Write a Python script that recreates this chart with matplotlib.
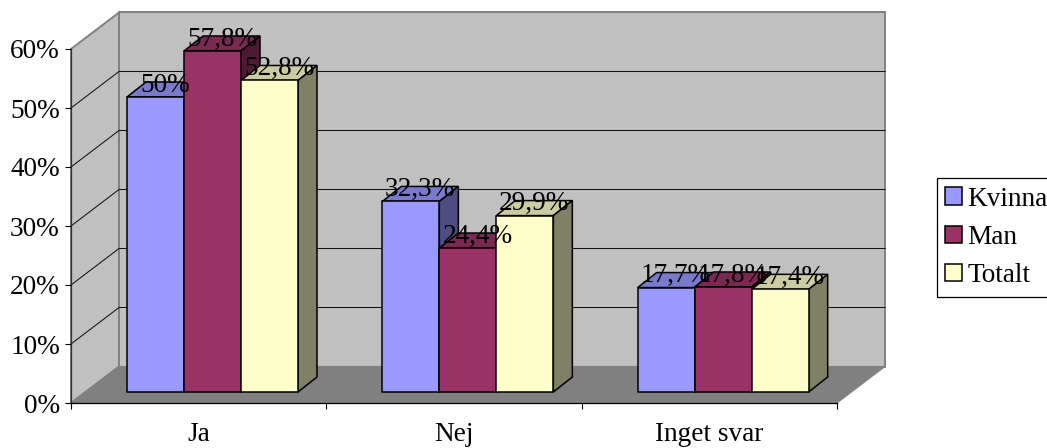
import matplotlib
matplotlib.use("Agg")
import matplotlib.pyplot as plt
from matplotlib.patches import Patch

plt.rcParams["font.family"] = ["Liberation Serif", "DejaVu Serif"]

categories = ["Ja", "Nej", "Inget svar"]
series_names = ["Kvinna", "Man", "Totalt"]
kvinna = [50, 32.3, 17.7]
man = [57.8, 24.4, 17.8]
totalt = [52.8, 29.9, 17.4]
kvinna_labels = ["50%", "32,3%", "17,7%"]
man_labels = ["57,8%", "24,4%", "17,8%"]
totalt_labels = ["52,8%", "29,9%", "17,4%"]
y_ticks = [0, 10, 20, 30, 40, 50, 60]

# front, top, side colours of the 3d boxes
colors = [("#9999FF", "#7A7ACC", "#4D4D80"),
          ("#993366", "#7A2952", "#4D1A33"),
          ("#FFFFCC", "#CCCCA3", "#808066")]

W, H = 1047, 448
fs = 19.6
fig = plt.figure(figsize=(W / 100, H / 100), dpi=100)
ax = fig.add_axes([71 / W, (H - 403) / H, 766 / W, 354 / H])
ax.set_xlim(0, 3)
ax.set_ylim(0, 60)
ax.patch.set_visible(False)

px_x = 3 / 766
px_y = 60 / 354
depth_x = 48 * px_x
depth_y = 36.5 * px_y

# walls and floor
wall_kw = dict(clip_on=False, zorder=0)
ax.fill([depth_x, 3 + depth_x, 3 + depth_x, depth_x], [depth_y, depth_y, 60 + depth_y, 60 + depth_y],
        facecolor="#C0C0C0", edgecolor="#808080", linewidth=1.4, **wall_kw)
ax.fill([0, depth_x, depth_x, 0], [0, depth_y, 60 + depth_y, 60],
        facecolor="#C0C0C0", edgecolor="#808080", linewidth=1.4, **wall_kw)
ax.fill([0, 3, 3 + depth_x, depth_x], [0, 0, depth_y, depth_y],
        facecolor="#808080", edgecolor="#808080", linewidth=0.8, **wall_kw)

# gridlines run along the side wall and the back wall
for t in y_ticks[1:-1]:
    ax.plot([0, depth_x, 3 + depth_x], [t, t + depth_y, t + depth_y], color="#111111",
            linewidth=0.75, clip_on=False, zorder=1)

# bars
bar_w = 57 * px_x
bar_start = 56 * px_x
base = 11 * px_y
box_x = 19 * px_x
box_y = 15 * px_y
edge = dict(edgecolor="black", linewidth=1.1, clip_on=False)

all_values = [kvinna, man, totalt]
all_labels = [kvinna_labels, man_labels, totalt_labels]
z = 2
for s, values in enumerate(all_values):
    front, top, side = colors[s]
    for c, v in enumerate(values):
        x0 = c + bar_start + s * bar_w
        x1 = x0 + bar_w
        y1 = base + v
        ax.fill([x0, x1, x1 + box_x, x0 + box_x], [y1, y1, y1 + box_y, y1 + box_y],
                facecolor=top, zorder=z, **edge)
        ax.fill([x1, x1 + box_x, x1 + box_x, x1], [base, base + box_y, y1 + box_y, y1],
                facecolor=side, zorder=z, **edge)
        ax.bar(x0, v, width=bar_w, bottom=base, align="edge", facecolor=front, zorder=z + 0.5, **edge)
    z += 1

# value labels
for s, values in enumerate(all_values):
    for c, v in enumerate(values):
        x = c + bar_start + (s + 0.5) * bar_w + box_x / 2
        ax.text(x, base + v + 5.5 * px_y, all_labels[s][c], ha="center", va="baseline",
                fontsize=fs, color="black", zorder=10, clip_on=False)

# axes
for name in ["top", "right"]:
    ax.spines[name].set_visible(False)
ax.spines["left"].set_color("#333333")
ax.spines["left"].set_linewidth(0.9)
ax.spines["bottom"].set_color("black")
ax.spines["bottom"].set_linewidth(0.9)
ax.spines["left"].set_zorder(1.5)
ax.spines["bottom"].set_zorder(1.5)

ax.set_yticks(y_ticks)
ax.set_yticklabels([f"{t}%" for t in y_ticks], fontsize=fs)
ax.tick_params(axis="y", length=4.5, width=0.8, pad=3.5)
ax.set_xticks([0, 1, 2, 3])
ax.set_xticklabels([])
ax.tick_params(axis="x", which="major", length=4.5, width=0.8)
ax.set_xticks([0.5, 1.5, 2.5], minor=True)
ax.set_xticklabels(categories, minor=True, fontsize=fs)
ax.tick_params(axis="x", which="minor", length=0, pad=14)

handles = [Patch(facecolor=colors[i][0], edgecolor="black", linewidth=1.1, label=series_names[i]) for i in range(3)]
leg = fig.legend(handles=handles, loc="upper left", bbox_to_anchor=(936.5 / W, 1 - 178 / H),
                 bbox_transform=fig.transFigure, fontsize=fs, frameon=True, fancybox=False,
                 edgecolor="black", facecolor="white", framealpha=1, borderaxespad=0, borderpad=0.32,
                 handlelength=0.6, handleheight=0.6, handletextpad=0.22, labelspacing=0.49)
leg.get_frame().set_linewidth(0.9)

fig.savefig("out.png", dpi=100)
